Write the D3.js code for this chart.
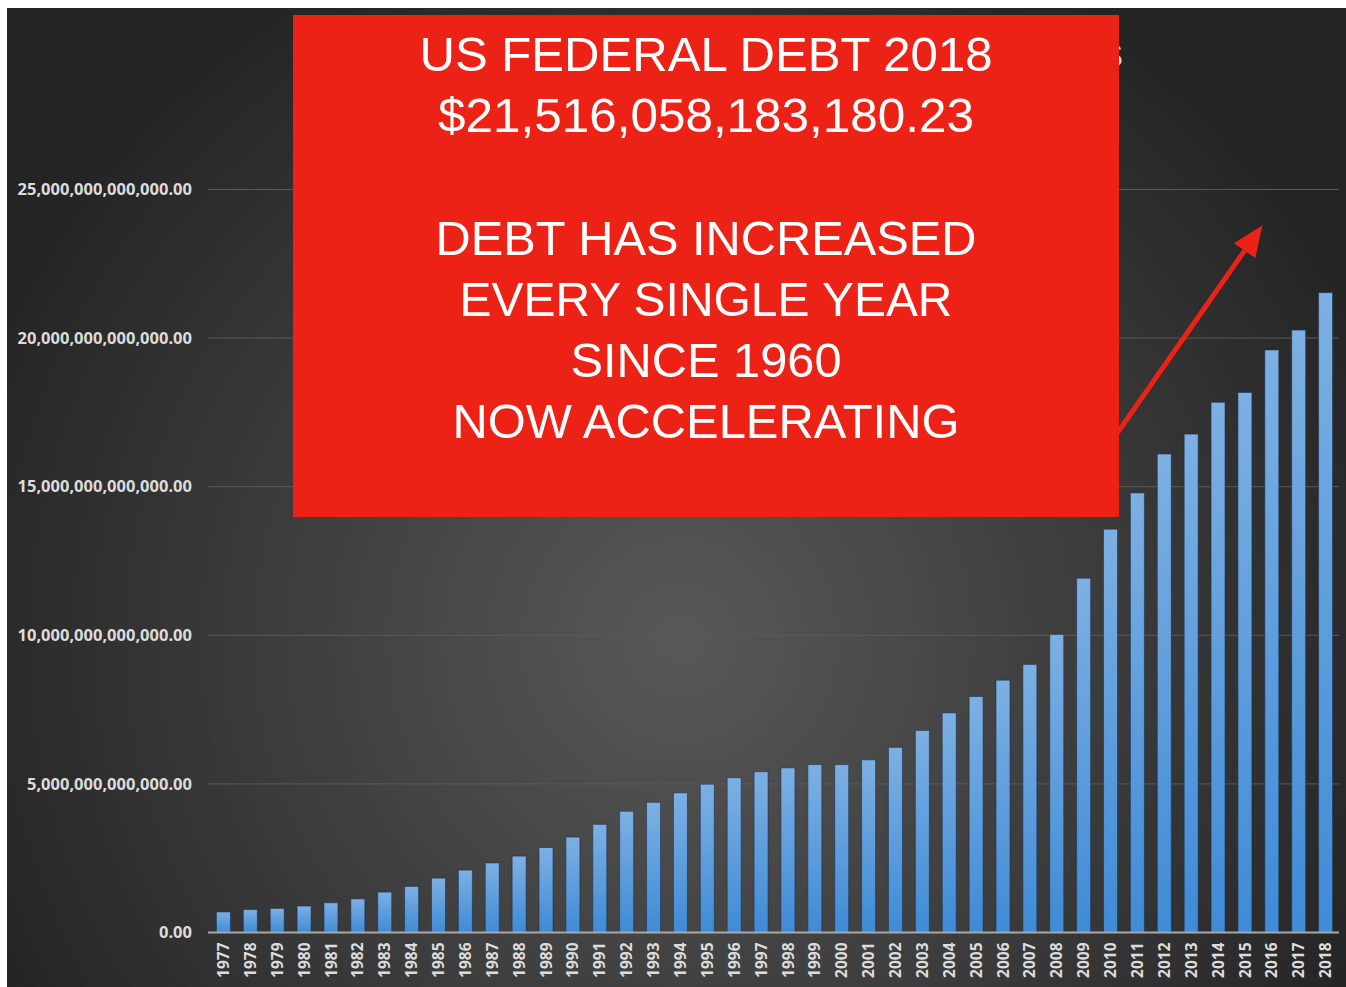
<!DOCTYPE html>
<html>
<head>
<meta charset="utf-8">
<script src="https://cdn.jsdelivr.net/npm/d3@7"></script>
<style>
  html, body { margin: 0; padding: 0; background: #ffffff; }
  svg { display: block; }
</style>
</head>
<body>
<svg id="chart" width="1346" height="987"></svg>
<script>
// US federal debt by year (in dollars)
const years = [
  "1977", "1978", "1979", "1980", "1981", "1982", "1983", "1984", "1985", "1986",
  "1987", "1988", "1989", "1990", "1991", "1992", "1993", "1994", "1995", "1996",
  "1997", "1998", "1999", "2000", "2001", "2002", "2003", "2004", "2005", "2006",
  "2007", "2008", "2009", "2010", "2011", "2012", "2013", "2014", "2015", "2016",
  "2017", "2018"
];
const debtTrillions = [
  0.69, 0.77, 0.81, 0.89, 1.00, 1.13, 1.36, 1.55, 1.83, 2.10,
  2.34, 2.57, 2.86, 3.21, 3.64, 4.08, 4.38, 4.70, 4.99, 5.21,
  5.41, 5.54, 5.65, 5.65, 5.81, 6.23, 6.80, 7.39, 7.94, 8.49,
  9.02, 10.03, 11.92, 13.57, 14.79, 16.10, 16.77, 17.84, 18.17, 19.60,
  20.27, 21.53
];
const yTicks = [0, 5e12, 10e12, 15e12, 20e12, 25e12];

const chartTitle = "US FEDERAL DEBT BY YEAR IN DOLLARS";
const calloutLines = [
  "US FEDERAL DEBT 2018",
  "$21,516,058,183,180.23",
  "",
  "DEBT HAS INCREASED",
  "EVERY SINGLE YEAR",
  "SINCE 1960",
  "NOW ACCELERATING"
];
// arrow annotation, in data terms (fractional year index, debt)
const arrowFrom = { year: 2009.4, value: 15.7e12 };
const arrowTo = { year: 2015.65, value: 23.8e12 };

const data = years.map((yr, i) => ({ year: yr, value: debtTrillions[i] * 1e12 }));

const svg = d3.select("#chart");
const W = 1346, H = 987;

const defs = svg.append("defs");

const bg = defs.append("radialGradient")
  .attr("id", "bgGrad")
  .attr("gradientUnits", "userSpaceOnUse")
  .attr("cx", 680).attr("cy", 640).attr("r", 760);
bg.append("stop").attr("offset", "0%").attr("stop-color", "#585858");
bg.append("stop").attr("offset", "55%").attr("stop-color", "#3c3c3c");
bg.append("stop").attr("offset", "100%").attr("stop-color", "#242424");

const barGrad = defs.append("linearGradient")
  .attr("id", "barGrad")
  .attr("x1", 0).attr("y1", 0).attr("x2", 0).attr("y2", 1);
barGrad.append("stop").attr("offset", "0%").attr("stop-color", "#7db0e3");
barGrad.append("stop").attr("offset", "100%").attr("stop-color", "#3f8bd6");

// white page margin on top/left, then the dark slide background
svg.append("rect")
  .attr("x", 7).attr("y", 8)
  .attr("width", W - 7).attr("height", H - 8)
  .attr("fill", "url(#bgGrad)");

const x = d3.scaleBand()
  .domain(years)
  .range([210, 1339])
  .paddingInner(0.48)
  .paddingOuter(0.24);

const y = d3.scaleLinear()
  .domain([0, 25e12])
  .range([932.5, 189.5]);

const step = x.step();
const xYear = (yr) => x(years[0]) + x.bandwidth() / 2 + (yr - +years[0]) * step;

// gridlines
svg.append("g")
  .selectAll("line")
  .data(yTicks.filter((d) => d > 0))
  .enter()
  .append("line")
  .attr("x1", 208).attr("x2", 1339)
  .attr("y1", (d) => y(d)).attr("y2", (d) => y(d))
  .attr("stroke", "#5a5a5a")
  .attr("stroke-width", 1);

// y axis labels
const yAxis = svg.append("g")
  .attr("transform", "translate(208,0)")
  .call(d3.axisLeft(y).tickValues(yTicks).tickFormat(d3.format(",.2f")).tickSize(0).tickPadding(16));
yAxis.select(".domain").remove();
yAxis.selectAll("text")
  .attr("fill", "#dcdcdc")
  .style("font-family", "'Open Sans', 'DejaVu Sans', sans-serif")
  .style("font-weight", "bold")
  .style("font-size", "16.5px");

// bars
svg.append("g")
  .selectAll(".bar")
  .data(data)
  .enter()
  .append("rect")
  .attr("class", "bar")
  .attr("x", (d) => x(d.year))
  .attr("width", x.bandwidth())
  .attr("y", (d) => y(d.value))
  .attr("height", (d) => y(0) - y(d.value))
  .attr("fill", "url(#barGrad)")
  .attr("stroke", "rgba(25,45,75,0.55)")
  .attr("stroke-width", 1);

// baseline + year labels
const xAxis = svg.append("g")
  .attr("transform", `translate(0,${y(0)})`)
  .call(d3.axisBottom(x).tickSize(0).tickPadding(0));
xAxis.select(".domain")
  .attr("d", "M208,0H1339")
  .attr("stroke", "#a8a8a8")
  .attr("stroke-width", 2);
xAxis.selectAll(".tick text")
  .attr("transform", "rotate(-90)")
  .attr("x", -10)
  .attr("y", 0)
  .attr("dy", "0.36em")
  .attr("text-anchor", "end")
  .attr("fill", "#dcdcdc")
  .style("font-family", "'Open Sans', 'DejaVu Sans', sans-serif")
  .style("font-weight", "bold")
  .style("font-size", "15.5px");

// original chart title (mostly covered by the callout box)
svg.append("text")
  .attr("x", 1123)
  .attr("y", 67)
  .attr("text-anchor", "end")
  .attr("fill", "#e6e6e6")
  .style("font-family", "'Liberation Sans', Arial, sans-serif")
  .style("font-size", "34px")
  .text(chartTitle);

// red arrow
const ax1 = xYear(arrowFrom.year), ay1 = y(arrowFrom.value);
const ax2 = xYear(arrowTo.year), ay2 = y(arrowTo.value);
const ang = Math.atan2(ay2 - ay1, ax2 - ax1);
const headLen = 31, headHalf = 13;
const bx = ax2 - headLen * Math.cos(ang), by = ay2 - headLen * Math.sin(ang);
svg.append("line")
  .attr("x1", ax1).attr("y1", ay1)
  .attr("x2", bx).attr("y2", by)
  .attr("stroke", "#ec2216")
  .attr("stroke-width", 5);
svg.append("path")
  .attr("d", d3.line()([
    [ax2, ay2],
    [bx + headHalf * Math.sin(ang), by - headHalf * Math.cos(ang)],
    [bx - headHalf * Math.sin(ang), by + headHalf * Math.cos(ang)]
  ]) + "Z")
  .attr("fill", "#ec2216");

// red callout box
const box = { x: 293, y: 15, w: 826, h: 502 };
svg.append("rect")
  .attr("x", box.x).attr("y", box.y)
  .attr("width", box.w).attr("height", box.h)
  .attr("fill", "#ec2216");

const lineWidths = [573, 536, 0, 541, 493, 271, 507];
svg.append("g")
  .selectAll("text")
  .data(calloutLines)
  .enter()
  .append("text")
  .attr("x", box.x + box.w / 2)
  .attr("y", (d, i) => 71 + i * 61.2)
  .attr("text-anchor", "middle")
  .attr("fill", "#ffffff")
  .style("font-family", "'Liberation Sans', Arial, sans-serif")
  .style("font-size", "49px")
  .attr("textLength", (d, i) => lineWidths[i] || null)
  .attr("lengthAdjust", "spacingAndGlyphs")
  .text((d) => d);
</script>
</body>
</html>
